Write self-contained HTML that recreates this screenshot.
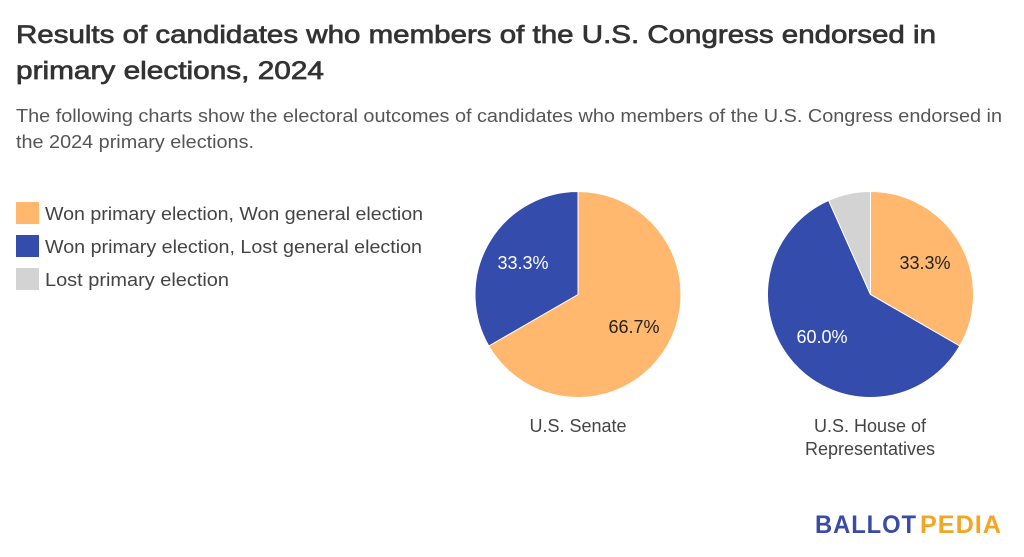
<!DOCTYPE html>
<html>
<head>
<meta charset="utf-8">
<style>
html,body{margin:0;padding:0;background:#fff;}
svg{display:block;}
text{font-family:"Liberation Sans",Arial,sans-serif;}
</style>
</head>
<body>
<svg width="1024" height="557" viewBox="0 0 1024 557" xmlns="http://www.w3.org/2000/svg">
<rect width="1024" height="557" fill="#fff"/>
<!-- Title -->
<text x="16" y="43" font-size="25" fill="#333" stroke="#333" stroke-width="0.7" textLength="920" lengthAdjust="spacingAndGlyphs">Results of candidates who members of the U.S. Congress endorsed in</text>
<text x="16" y="79" font-size="25" fill="#333" stroke="#333" stroke-width="0.7" textLength="308" lengthAdjust="spacingAndGlyphs">primary elections, 2024</text>
<!-- Subtitle -->
<text x="16" y="122" font-size="18" fill="#555" textLength="986" lengthAdjust="spacingAndGlyphs">The following charts show the electoral outcomes of candidates who members of the U.S. Congress endorsed in</text>
<text x="16" y="148" font-size="18" fill="#555" textLength="238" lengthAdjust="spacingAndGlyphs">the 2024 primary elections.</text>
<!-- Legend -->
<rect x="16" y="202" width="23" height="22" fill="#ffb86d"/>
<rect x="16" y="235" width="23" height="22" fill="#344cab"/>
<rect x="16" y="268" width="23" height="22" fill="#d3d3d3"/>
<text x="45" y="220" font-size="18" fill="#444" textLength="378" lengthAdjust="spacingAndGlyphs">Won primary election, Won general election</text>
<text x="45" y="253" font-size="18" fill="#444" textLength="377" lengthAdjust="spacingAndGlyphs">Won primary election, Lost general election</text>
<text x="45" y="286" font-size="18" fill="#444" textLength="184" lengthAdjust="spacingAndGlyphs">Lost primary election</text>
<!-- Senate pie -->
<g stroke="#fff" stroke-width="1">
<path d="M578,294.5 L578,191.5 A103,103 0 1,1 488.8,346 Z" fill="#ffb86d"/>
<path d="M578,294.5 L488.8,346 A103,103 0 0,1 578,191.5 Z" fill="#344cab"/>
</g>
<text x="523" y="269" font-size="18" fill="#fff" text-anchor="middle">33.3%</text>
<text x="634" y="333" font-size="18" fill="#222" text-anchor="middle">66.7%</text>
<text x="578" y="432" font-size="18" fill="#444" text-anchor="middle">U.S. Senate</text>
<!-- House pie -->
<g stroke="#fff" stroke-width="1">
<path d="M870.5,294.5 L870.5,191.5 A103,103 0 0,1 959.7,346 Z" fill="#ffb86d"/>
<path d="M870.5,294.5 L959.7,346 A103,103 0 1,1 828.6,200.4 Z" fill="#344cab"/>
<path d="M870.5,294.5 L828.6,200.4 A103,103 0 0,1 870.5,191.5 Z" fill="#d3d3d3"/>
</g>
<text x="925" y="269" font-size="18" fill="#222" text-anchor="middle">33.3%</text>
<text x="822" y="343" font-size="18" fill="#fff" text-anchor="middle">60.0%</text>
<text x="870" y="432" font-size="18" fill="#444" text-anchor="middle">U.S. House of</text>
<text x="870" y="455" font-size="18" fill="#444" text-anchor="middle">Representatives</text>
<!-- Logo -->
<text x="815" y="533" font-size="25" font-weight="bold" fill="#3a4ba6" textLength="102" lengthAdjust="spacingAndGlyphs" letter-spacing="1">BALLOT</text>
<text x="920" y="533" font-size="25" font-weight="bold" fill="#f5a524" textLength="82" lengthAdjust="spacingAndGlyphs" letter-spacing="1">PEDIA</text>
</svg>
</body>
</html>
